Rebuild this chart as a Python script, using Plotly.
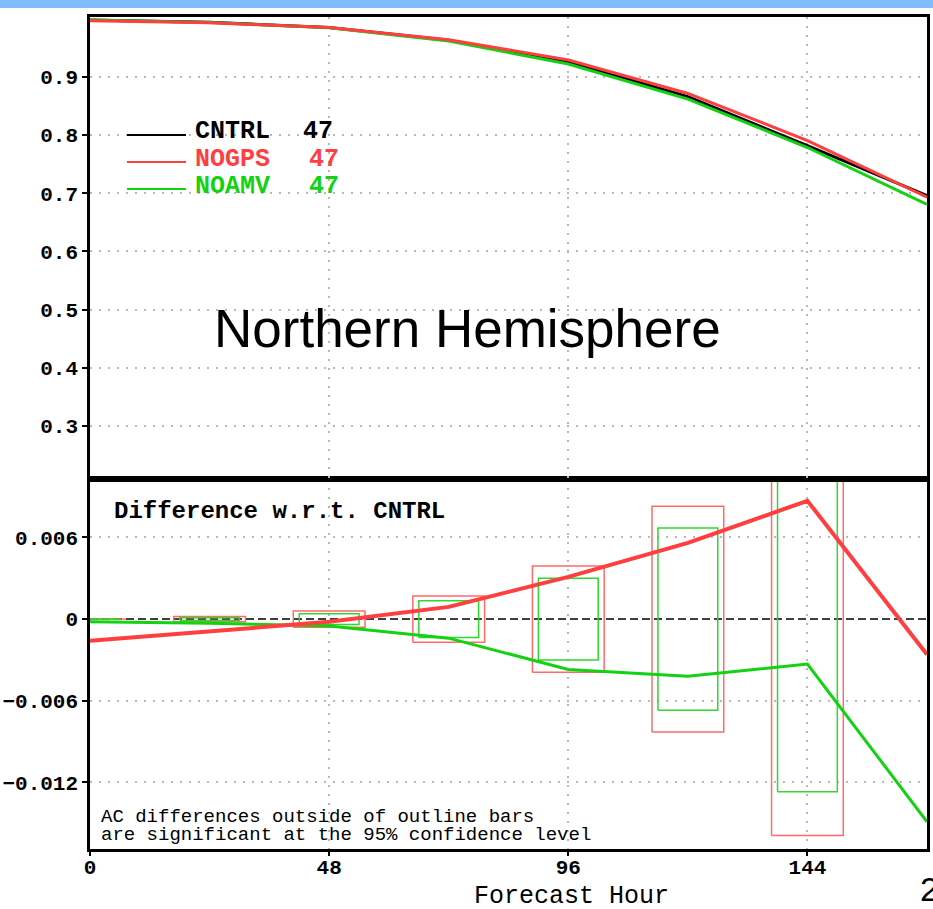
import plotly.graph_objects as go

# ---------------- data ----------------
hours = [0, 24, 48, 72, 96, 120, 144, 168]
cntrl = [0.998, 0.994, 0.985, 0.963, 0.926, 0.866, 0.782, 0.696]
nogps = [0.9964, 0.9931, 0.9848, 0.9639, 0.9291, 0.8716, 0.7907, 0.6934]
noamv = [0.9978, 0.9937, 0.9845, 0.9616, 0.9223, 0.8618, 0.7787, 0.6811]

diff_nogps = [-0.0016, -0.0009, -0.0002, 0.0009, 0.0031, 0.0056, 0.0087, -0.0026]
diff_noamv = [-0.0002, -0.0003, -0.0005, -0.0014, -0.0037, -0.0042, -0.0033, -0.0149]

bar_hours = [0, 24, 48, 72, 96, 120, 144]
bar_nogps = [0.0, 0.0002, 0.0006, 0.0017, 0.0039, 0.0083, 0.0159]
bar_noamv = [0.0, 0.0001, 0.0004, 0.00135, 0.0030, 0.0067, 0.0127]

x_ticks = [0, 48, 96, 144]
x_ticktext = ["0", "48", "96", "144"]
top_ticks = [0.3, 0.4, 0.5, 0.6, 0.7, 0.8, 0.9]
top_ticktext = ["0.3", "0.4", "0.5", "0.6", "0.7", "0.8", "0.9"]
bot_ticks = [-0.012, -0.006, 0, 0.006]
bot_ticktext = ["\u22120.012", "\u22120.006", "0", "0.006"]
bot_grid = [-0.012, -0.006, 0.006]

names = ["CNTRL", "NOGPS", "NOAMV"]
counts = ["47", "47", "47"]

# ---------------- style ----------------
W, H = 933, 909
RED = "#ff3f3f"
GREEN = "#12d212"
BLACK = "#000000"
RED_BAR = "#ff6a6a"
GREEN_BAR = "#2ed82e"
GRID = "#b8b8b8"
MONO = "Liberation Mono"


def xp(px):
    return px / W


def yp(py):
    return 1 - py / H


def outline(centers, halfh, halfw):
    xs, ys = [], []
    for c, h in zip(centers, halfh):
        xs += [c - halfw, c + halfw, c + halfw, c - halfw, c - halfw, None]
        ys += [-h, -h, h, h, -h, None]
    return xs, ys


fig = go.Figure()

# zero line of the difference panel (drawn first, under the other marks)
fig.add_trace(go.Scatter(x=[0, 168], y=[0, 0], mode="lines",
                         line=dict(color="black", width=1.5, dash="8px,4px"),
                         xaxis="x", yaxis="y", showlegend=False, hoverinfo="skip"))

# top panel lines
fig.add_trace(go.Scatter(x=hours, y=cntrl, mode="lines", line=dict(color=BLACK, width=3),
                         xaxis="x2", yaxis="y2", showlegend=False))
fig.add_trace(go.Scatter(x=hours, y=noamv, mode="lines", line=dict(color=GREEN, width=3),
                         xaxis="x2", yaxis="y2", showlegend=False))
fig.add_trace(go.Scatter(x=hours, y=nogps, mode="lines", line=dict(color=RED, width=3),
                         xaxis="x2", yaxis="y2", showlegend=False))

# bottom panel outline bars
bx, by = outline(bar_hours, bar_nogps, 7.2)
fig.add_trace(go.Scatter(x=bx, y=by, mode="lines", line=dict(color=RED_BAR, width=1.5),
                         xaxis="x", yaxis="y", showlegend=False, connectgaps=False))
gx, gy = outline(bar_hours, bar_noamv, 6.0)
fig.add_trace(go.Scatter(x=gx, y=gy, mode="lines", line=dict(color=GREEN_BAR, width=1.5),
                         xaxis="x", yaxis="y", showlegend=False, connectgaps=False))

# bottom panel difference lines
fig.add_trace(go.Scatter(x=hours, y=diff_noamv, mode="lines", line=dict(color=GREEN, width=3),
                         xaxis="x", yaxis="y", showlegend=False))
fig.add_trace(go.Scatter(x=hours, y=diff_nogps, mode="lines", line=dict(color=RED, width=4),
                         xaxis="x", yaxis="y", showlegend=False))

xdom = [xp(90), xp(927)]
bot_dom = [yp(849), yp(479)]
top_dom = [yp(479), yp(17)]

tickfont = dict(family=MONO, size=21, color="black", weight="bold")
grid = dict(showgrid=True, gridcolor=GRID, griddash="2px,7px", gridwidth=1.5)
frame = dict(showline=True, linecolor="black", linewidth=2.5, mirror=True,
             zeroline=False, automargin=False)

fig.update_layout(
    width=W, height=H,
    margin=dict(l=0, r=0, t=0, b=0),
    paper_bgcolor="white", plot_bgcolor="white",
    showlegend=False,
    xaxis=dict(domain=xdom, anchor="y", range=[0, 168], tickvals=x_ticks, ticktext=x_ticktext,
               ticks="outside", ticklen=4, tickwidth=2, tickcolor="black",
               ticklabelstandoff=-7,
               tickfont=tickfont, **grid, **frame),
    yaxis=dict(domain=bot_dom, anchor="x", range=[-0.0169, 0.0103], tickvals=bot_ticks,
               ticktext=bot_ticktext, showgrid=False,
               ticks="outside", ticklen=5, tickwidth=2, tickcolor="black",
               tickfont=tickfont, **frame),
    # grid-only overlay for the difference panel (no dotted grid on the zero line)
    yaxis3=dict(overlaying="y", anchor="x", range=[-0.0169, 0.0103], tickvals=bot_grid,
                showticklabels=False, ticks="", showline=False, zeroline=False,
                automargin=False, **grid),
    xaxis2=dict(domain=xdom, anchor="y2", range=[0, 168], tickvals=[48, 96, 144],
                showticklabels=False, ticks="", **grid, **frame),
    yaxis2=dict(domain=top_dom, anchor="x2", range=[0.209, 1.003], tickvals=top_ticks,
                ticktext=top_ticktext,
                ticks="outside", ticklen=5, tickwidth=2, tickcolor="black",
                tickfont=tickfont, **grid, **frame),
)
# dummy trace so the grid axis is drawn
fig.add_trace(go.Scatter(x=[None], y=[None], xaxis="x", yaxis="y3", showlegend=False,
                         hoverinfo="skip"))

shapes = [
    # blue band at the very top
    dict(type="rect", xref="paper", yref="paper", x0=0, x1=1, y0=yp(8), y1=1,
         fillcolor="#7fbdff", line=dict(width=0), layer="above"),
]
# legend sample lines
leg_y = [135, 162, 189]
leg_colors = [BLACK, RED, GREEN]
for yy, cc in zip(leg_y, leg_colors):
    shapes.append(dict(type="line", xref="paper", yref="paper", x0=xp(127), x1=xp(186),
                       y0=yp(yy), y1=yp(yy), line=dict(color=cc, width=2)))
fig.update_layout(shapes=shapes)

ann = []
legfont = lambda c: dict(family=MONO, size=25, color=c, weight="bold")
name_y = [132, 159, 186]
count_x = [301, 307, 307]
for nm, ct, yy, cc, cx in zip(names, counts, name_y, leg_colors, count_x):
    ann.append(dict(text=nm, x=xp(193), y=yp(yy), xref="paper", yref="paper",
                    xanchor="left", yanchor="middle", showarrow=False, font=legfont(cc)))
    ann.append(dict(text=ct, x=xp(cx), y=yp(yy), xref="paper", yref="paper",
                    xanchor="left", yanchor="middle", showarrow=False, font=legfont(cc)))

ann.append(dict(text="Northern Hemisphere", x=xp(467), y=yp(328), xref="paper", yref="paper",
                xanchor="center", yanchor="middle", showarrow=False,
                font=dict(family="Liberation Sans", size=53, color="black")))
ann.append(dict(text="Difference w.r.t. CNTRL", x=xp(112), y=yp(511), xref="paper", yref="paper",
                xanchor="left", yanchor="middle", showarrow=False,
                font=dict(family=MONO, size=24, color="black", weight="bold")))
ann.append(dict(text="AC differences outside of outline bars", x=xp(99), y=yp(817),
                xref="paper", yref="paper", xanchor="left", yanchor="middle", showarrow=False,
                font=dict(family=MONO, size=19, color="black")))
ann.append(dict(text="are significant at the 95% confidence level", x=xp(99), y=yp(835),
                xref="paper", yref="paper", xanchor="left", yanchor="middle", showarrow=False,
                font=dict(family=MONO, size=19, color="black")))
ann.append(dict(text="Forecast Hour", x=xp(571), y=yp(896), xref="paper", yref="paper",
                xanchor="center", yanchor="middle", showarrow=False,
                font=dict(family=MONO, size=25, color="black")))
ann.append(dict(text="2", x=xp(918), y=yp(889), xref="paper", yref="paper",
                xanchor="left", yanchor="middle", showarrow=False,
                font=dict(family="Liberation Sans", size=34, color="black")))
fig.update_layout(annotations=ann)

fig.write_html("out.html")
